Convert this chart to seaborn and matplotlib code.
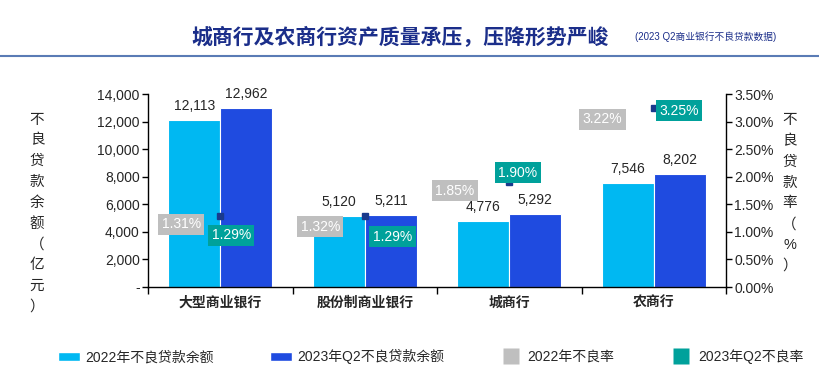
import numpy as np
import pandas as pd
import matplotlib
matplotlib.use("Agg")
import matplotlib.pyplot as plt
import seaborn as sns
from matplotlib.patches import Patch
from matplotlib.lines import Line2D
from matplotlib.ticker import FuncFormatter, FixedLocator

banks = ["大型商业银行", "股份制商业银行", "城商行", "农商行"]
npl_2022 = [12113, 5120, 4776, 7546]
npl_2023q2 = [12962, 5211, 5292, 8202]
rate_2022 = [1.31, 1.32, 1.85, 3.22]
rate_2023q2 = [1.29, 1.29, 1.90, 3.25]
series_names = ["2022年不良贷款余额", "2023年Q2不良贷款余额"]
rate_names = ["2022年不良率", "2023年Q2不良率"]

c_light = "#00B8F2"
c_dark = "#1F4BE0"
c_gray = "#BFBFBF"
c_teal = "#00A19B"
c_title = "#1B2E8A"

sns.set_theme(style="white")
plt.rcParams["font.family"] = ["Liberation Sans", "Noto Sans CJK SC", "DejaVu Sans"]

df = pd.DataFrame({
    "bank": banks * 2,
    "npl": npl_2022 + npl_2023q2,
    "series": [series_names[0]] * 4 + [series_names[1]] * 4,
})

fig = plt.figure(figsize=(8.2, 3.71), dpi=100)
ax = fig.add_axes([0.1805, 0.2264, 0.7049, 0.5202])
sns.barplot(data=df, x="bank", y="npl", hue="series", palette=[c_light, c_dark],
            width=0.72, saturation=1, ax=ax, edgecolor="white", linewidth=0.8, legend=False)
for cont in ax.containers:
    ax.bar_label(cont, labels=[f"{v:,.0f}" for v in cont.datavalues], padding=5, fontsize=10)

ax.set_ylim(0, 14000)
ax.set_xlim(-0.5, 3.5)
ax.set_yticks(np.arange(0, 14001, 2000))
ax.yaxis.set_major_formatter(FuncFormatter(lambda v, p: "-" if v == 0 else f"{v:,.0f}"))
ax.set_xlabel("")
ax.set_ylabel("")
for s in ["top", "right"]:
    ax.spines[s].set_visible(False)
for s in ["left", "bottom"]:
    ax.spines[s].set_color("black")
    ax.spines[s].set_linewidth(1)
ax.tick_params(axis="y", direction="out", length=4, width=1, color="black", labelsize=10, pad=2, left=True)
ax.tick_params(axis="x", which="major", length=0, labelsize=10, pad=6)
ax.xaxis.set_minor_locator(FixedLocator([-0.5, 0.5, 1.5, 2.5, 3.5]))
ax.tick_params(axis="x", which="minor", direction="out", length=5, width=1, color="black", bottom=True)
for t in ax.get_xticklabels():
    t.set_fontweight("bold")

ax2 = ax.twinx()
ax2.set_ylim(0, 3.5)
ax2.set_yticks(np.arange(0, 3.51, 0.5))
ax2.yaxis.set_major_formatter(FuncFormatter(lambda v, p: f"{v:.2f}%"))
for s in ["top", "left", "bottom"]:
    ax2.spines[s].set_visible(False)
ax2.spines["right"].set_color("black")
ax2.spines["right"].set_linewidth(1)
ax2.tick_params(axis="y", direction="out", length=4, width=1, color="black", labelsize=10, pad=2, right=True)
ax2.grid(False)
ax.grid(False)

xs = np.arange(len(banks))
ax2.plot(xs, rate_2023q2, linestyle="none", marker="s", ms=4, color="#1A3A8C", zorder=5)

# label offsets in points (dx, dy) from the category centre / rate value
gray_off = [(-28, -7), (-32, -9), (-39, -4), (-37, -7)]
teal_off = [(8, -14), (20, -15), (6, 7), (18, -2)]
for i in range(len(banks)):
    ax2.annotate(f"{rate_2022[i]:.2f}%", (xs[i], rate_2022[i]), xytext=gray_off[i],
                 textcoords="offset points", ha="center", va="center", color="white", fontsize=10,
                 bbox=dict(boxstyle="square,pad=0.25", fc=c_gray, ec="none"), zorder=6)
    ax2.annotate(f"{rate_2023q2[i]:.2f}%", (xs[i], rate_2023q2[i]), xytext=teal_off[i],
                 textcoords="offset points", ha="center", va="center", color="white", fontsize=10,
                 bbox=dict(boxstyle="square,pad=0.25", fc=c_teal, ec="none"), zorder=6)

fig.text(0.045, 0.425, "\n".join("不良贷款余额（亿元）"), ha="center", va="center",
         fontsize=10.5, linespacing=1.62)
fig.text(0.963, 0.48, "\n".join("不良贷款率（%）"), ha="center", va="center",
         fontsize=10.5, linespacing=1.62)

fig.text(0.488, 0.90, "城商行及农商行资产质量承压，压降形势严峻", ha="center", va="center",
         fontsize=15, fontweight="bold", color=c_title)
fig.text(0.86, 0.90, "(2023 Q2商业银行不良贷款数据)", ha="center", va="center",
         fontsize=7, color=c_title)
fig.add_artist(plt.Line2D([0, 1], [0.85, 0.85], color="#5A7BB5", lw=1.5, transform=fig.transFigure))

handles = [Patch(fc=c_light), Patch(fc=c_dark),
           Line2D([], [], linestyle="none", marker="s", ms=12, mfc=c_gray, mec="none"),
           Line2D([], [], linestyle="none", marker="s", ms=12, mfc=c_teal, mec="none")]
fig.legend(handles, series_names + rate_names, loc="lower center", bbox_to_anchor=(0.525, -0.015),
           ncol=4, frameon=False, fontsize=10, columnspacing=4.0, handlelength=1.6,
           handleheight=0.6, handletextpad=0.4)

fig.savefig("out.png", dpi=100)
